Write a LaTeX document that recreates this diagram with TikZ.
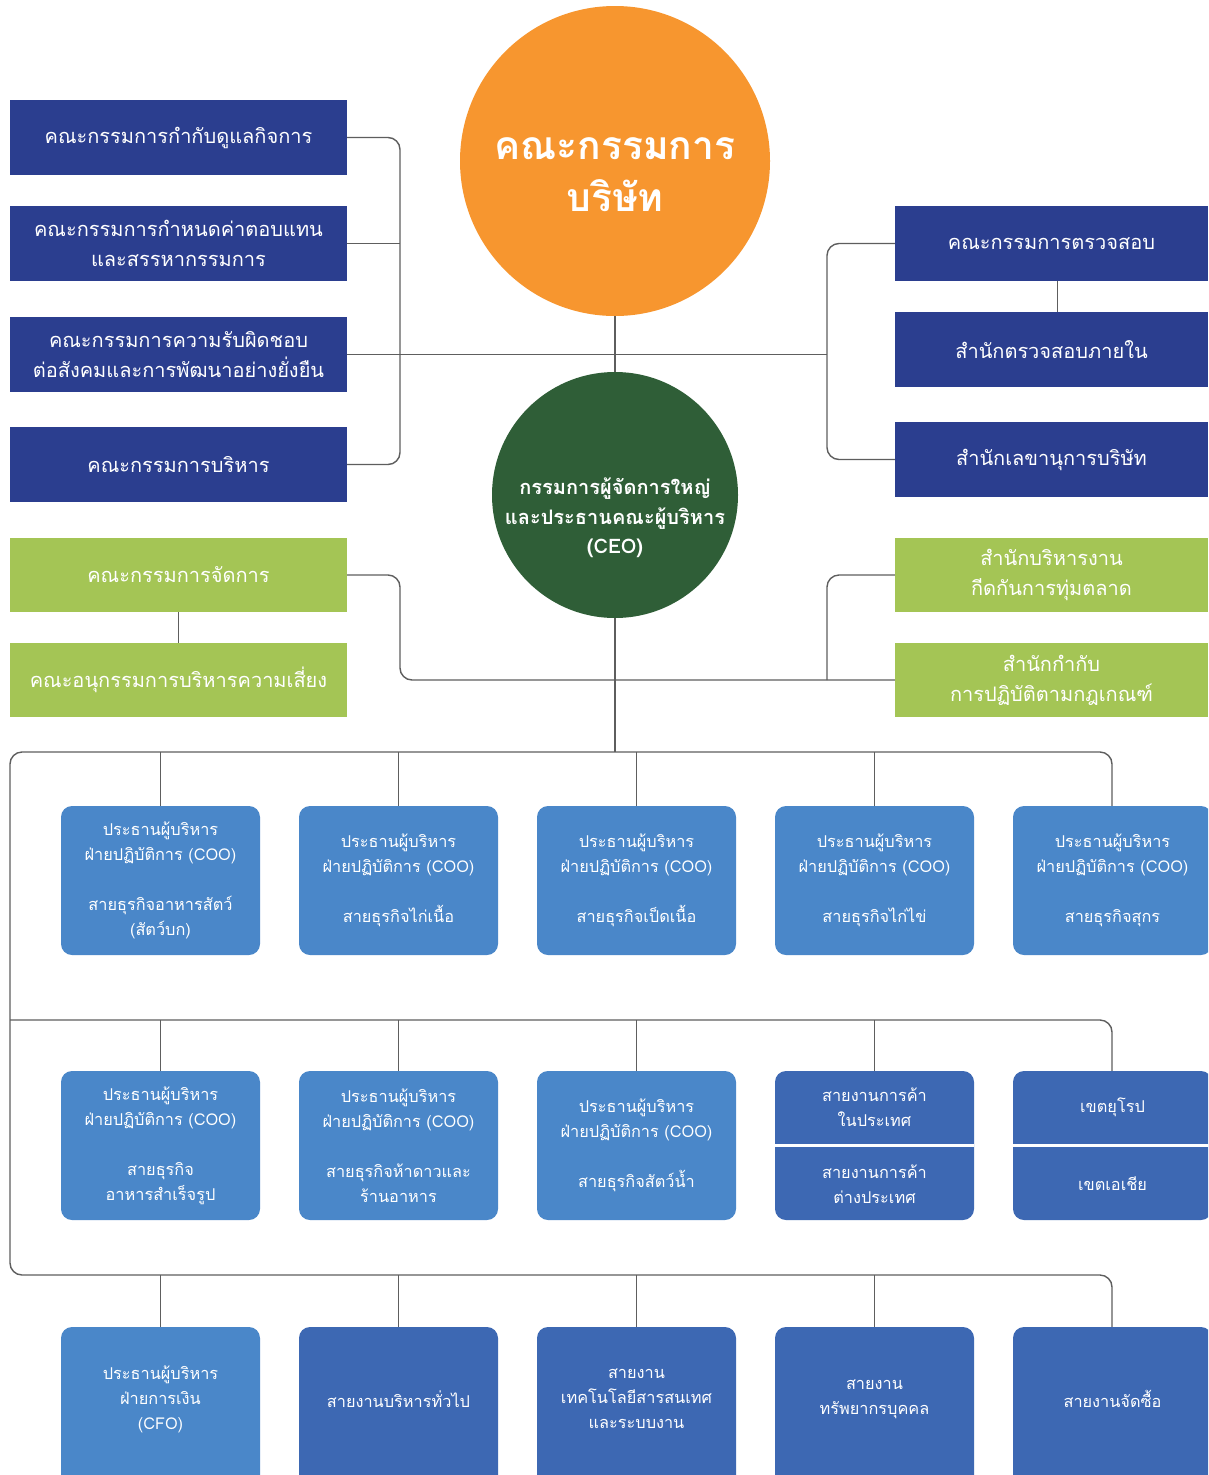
\documentclass[tikz,border=0pt]{standalone}
\usepackage{fontspec}
\setmainfont[Script=Thai]{Loma}
\definecolor{navy}{HTML}{2B3E8F}
\definecolor{orng}{HTML}{F7962F}
\definecolor{dgreen}{HTML}{2F5E37}
\definecolor{lgreen}{HTML}{A4C555}
\definecolor{lblue}{HTML}{4A87C9}
\definecolor{mblue}{HTML}{3D68B3}
\definecolor{lgray}{HTML}{5E5E5E}
\begin{document}
\begin{tikzpicture}[x=1pt,y=-1pt,
  flatbox/.style={rectangle, inner sep=0pt, text=white, align=center,
    minimum height=75pt, font=\fontsize{20}{30}\selectfont},
  nboxl/.style={flatbox, fill=navy, minimum width=337pt},
  nboxr/.style={flatbox, fill=navy, minimum width=313pt},
  gboxl/.style={flatbox, fill=lgreen, minimum width=337pt, minimum height=74pt},
  gboxr/.style={flatbox, fill=lgreen, minimum width=313pt, minimum height=74pt},
  unit/.style={rectangle, rounded corners=11pt, inner sep=0pt, text=white, align=center,
    minimum width=199pt, minimum height=149pt, fill=lblue, font=\fontsize{16.3}{25}\selectfont},
  unitd/.style={unit, fill=mblue},
  utext/.style={inner sep=0pt, text=white, align=center, font=\fontsize{16.3}{25}\selectfont},
  conn/.style={draw=lgray, line width=1.4pt, rounded corners=12pt},
  divider/.style={draw=white, line width=2.5pt}
]
\clip (0,0) rectangle (1208,1475);
\fill[white] (0,0) rectangle (1208,1475);

% circles
\node[circle, fill=orng, minimum size=310pt, inner sep=0pt] (board) at (615,161) {};
\node[inner sep=0pt, text=white, align=center, font=\bfseries\fontsize{39}{52}\selectfont] (boardt) at (615,175) {คณะกรรมการ\\บริษัท};
\node[circle, fill=dgreen, minimum size=246pt, inner sep=0pt] (ceo) at (615,495) {};
\node[inner sep=0pt, text=white, align=center, font=\bfseries\fontsize{20}{29.5}\selectfont] (ceot) at (615,518) {กรรมการผู้จัดการใหญ่\\และประธานคณะผู้บริหาร\\(CEO)};

% left committees
\node[nboxl] (l1) at (178.5,137.5) {คณะกรรมการกำกับดูแลกิจการ};
\node[nboxl] (l2) at (178.5,243.5) {คณะกรรมการกำหนดค่าตอบแทน\\และสรรหากรรมการ};
\node[nboxl] (l3) at (178.5,354.5) {คณะกรรมการความรับผิดชอบ\\ต่อสังคมและการพัฒนาอย่างยั่งยืน};
\node[nboxl] (l4) at (178.5,464.5) {คณะกรรมการบริหาร};

% right committees
\node[nboxr] (r1) at (1051.5,243.5) {คณะกรรมการตรวจสอบ};
\node[nboxr] (r2) at (1051.5,349.5) {สำนักตรวจสอบภายใน};
\node[nboxr] (r3) at (1051.5,459.5) {สำนักเลขานุการบริษัท};

% green boxes
\node[gboxl] (g1) at (178.5,575) {คณะกรรมการจัดการ};
\node[gboxl] (g2) at (178.5,680) {คณะอนุกรรมการบริหารความเสี่ยง};
\node[gboxr] (gr1) at (1051.5,575) {สำนักบริหารงาน\\กีดกันการทุ่มตลาด};
\node[gboxr] (gr2) at (1051.5,680) {สำนักกำกับ\\การปฏิบัติตามกฎเกณฑ์};

% row 1
\node[unit] (a1) at (160.5,880.5) {ประธานผู้บริหาร\\ฝ่ายปฏิบัติการ (COO)\\[25pt]สายธุรกิจอาหารสัตว์\\(สัตว์บก)};
\node[unit] (a2) at (398.5,880.5) {ประธานผู้บริหาร\\ฝ่ายปฏิบัติการ (COO)\\[25pt]สายธุรกิจไก่เนื้อ};
\node[unit] (a3) at (636.5,880.5) {ประธานผู้บริหาร\\ฝ่ายปฏิบัติการ (COO)\\[25pt]สายธุรกิจเป็ดเนื้อ};
\node[unit] (a4) at (874.5,880.5) {ประธานผู้บริหาร\\ฝ่ายปฏิบัติการ (COO)\\[25pt]สายธุรกิจไก่ไข่};
\node[unit] (a5) at (1112.5,880.5) {ประธานผู้บริหาร\\ฝ่ายปฏิบัติการ (COO)\\[25pt]สายธุรกิจสุกร};

% row 2
\node[unit] (b1) at (160.5,1145.5) {ประธานผู้บริหาร\\ฝ่ายปฏิบัติการ (COO)\\[25pt]สายธุรกิจ\\อาหารสำเร็จรูป};
\node[unit] (b2) at (398.5,1145.5) {ประธานผู้บริหาร\\ฝ่ายปฏิบัติการ (COO)\\[25pt]สายธุรกิจห้าดาวและ\\ร้านอาหาร};
\node[unit] (b3) at (636.5,1145.5) {ประธานผู้บริหาร\\ฝ่ายปฏิบัติการ (COO)\\[25pt]สายธุรกิจสัตว์น้ำ};
\node[unitd] (b4) at (874.5,1145.5) {};
\node[unitd] (b5) at (1112.5,1145.5) {};
\draw[divider] (b4.west) -- (b4.east);
\draw[divider] (b5.west) -- (b5.east);
\node[utext] (b4t) at (874.5,1107) {สายงานการค้า\\ในประเทศ};
\node[utext] (b4b) at (874.5,1184) {สายงานการค้า\\ต่างประเทศ};
\node[utext] (b5t) at (1112.5,1107) {เขตยุโรป};
\node[utext] (b5b) at (1112.5,1184) {เขตเอเชีย};

% row 3
\node[unit, minimum height=170pt] (c1) at (160.5,1412) {};
\node[unitd, minimum height=170pt] (c2) at (398.5,1412) {};
\node[unitd, minimum height=170pt] (c3) at (636.5,1412) {};
\node[unitd, minimum height=170pt] (c4) at (874.5,1412) {};
\node[unitd, minimum height=170pt] (c5) at (1112.5,1412) {};
\node[utext] (c1t) at (160.5,1399) {ประธานผู้บริหาร\\ฝ่ายการเงิน\\(CFO)};
\node[utext] (c2t) at (398.5,1399) {สายงานบริหารทั่วไป};
\node[utext] (c3t) at (636.5,1399) {สายงาน\\เทคโนโลยีสารสนเทศ\\และระบบงาน};
\node[utext] (c4t) at (874.5,1399) {สายงาน\\ทรัพยากรบุคคล};
\node[utext] (c5t) at (1112.5,1399) {สายงานจัดซื้อ};

% helper coordinates
\coordinate (lb) at (400,0);
\coordinate (rb) at (827,0);
\coordinate (bl1) at (10,752);
\coordinate (bl2) at (10,1020);
\coordinate (bl3) at (10,1275);

% connectors: board / CEO
\draw[conn] (board.south) -- (ceo.north);
\draw[conn] (l3.east) -- (l3.east -| rb);
\draw[conn] (l1.east) -- (l1.east -| lb) -- (l4.east -| lb) -- (l4.east);
\draw[conn] (l2.east) -- (l2.east -| lb);
\draw[conn] (r1.west) -- (r1.west -| rb) -- (r3.west -| rb) -- (r3.west);
\draw[conn] ([xshift=6pt]r1.south) -- ([xshift=6pt]r2.north);

% green connectors
\draw[conn] (g1.south) -- (g2.north);
\draw[conn] (g1.east) -- (g1.east -| lb) -- (gr2.west -| lb) -- (gr2.west);
\draw[conn] (gr1.west) -- (gr1.west -| rb) -- (gr2.west -| rb);

% bus lines
\draw[conn] (ceo.south) -- (ceo.south |- bl1);
\draw[conn] ([xshift=-0.5pt]a5.north) -- ([xshift=-0.5pt]a5.north |- bl1) -- (bl1) -- (bl3) -- ([xshift=-0.5pt]c5.north |- bl3) -- ([xshift=-0.5pt]c5.north);
\draw[conn] (bl2) -- ([xshift=-0.5pt]b5.north |- bl2) -- ([xshift=-0.5pt]b5.north);
\foreach \n in {a1,a2,a3,a4} \draw[conn] (\n.north) -- (\n.north |- bl1);
\foreach \n in {b1,b2,b3,b4} \draw[conn] (\n.north) -- (\n.north |- bl2);
\foreach \n in {c1,c2,c3,c4} \draw[conn] (\n.north) -- (\n.north |- bl3);
\end{tikzpicture}
\end{document}
